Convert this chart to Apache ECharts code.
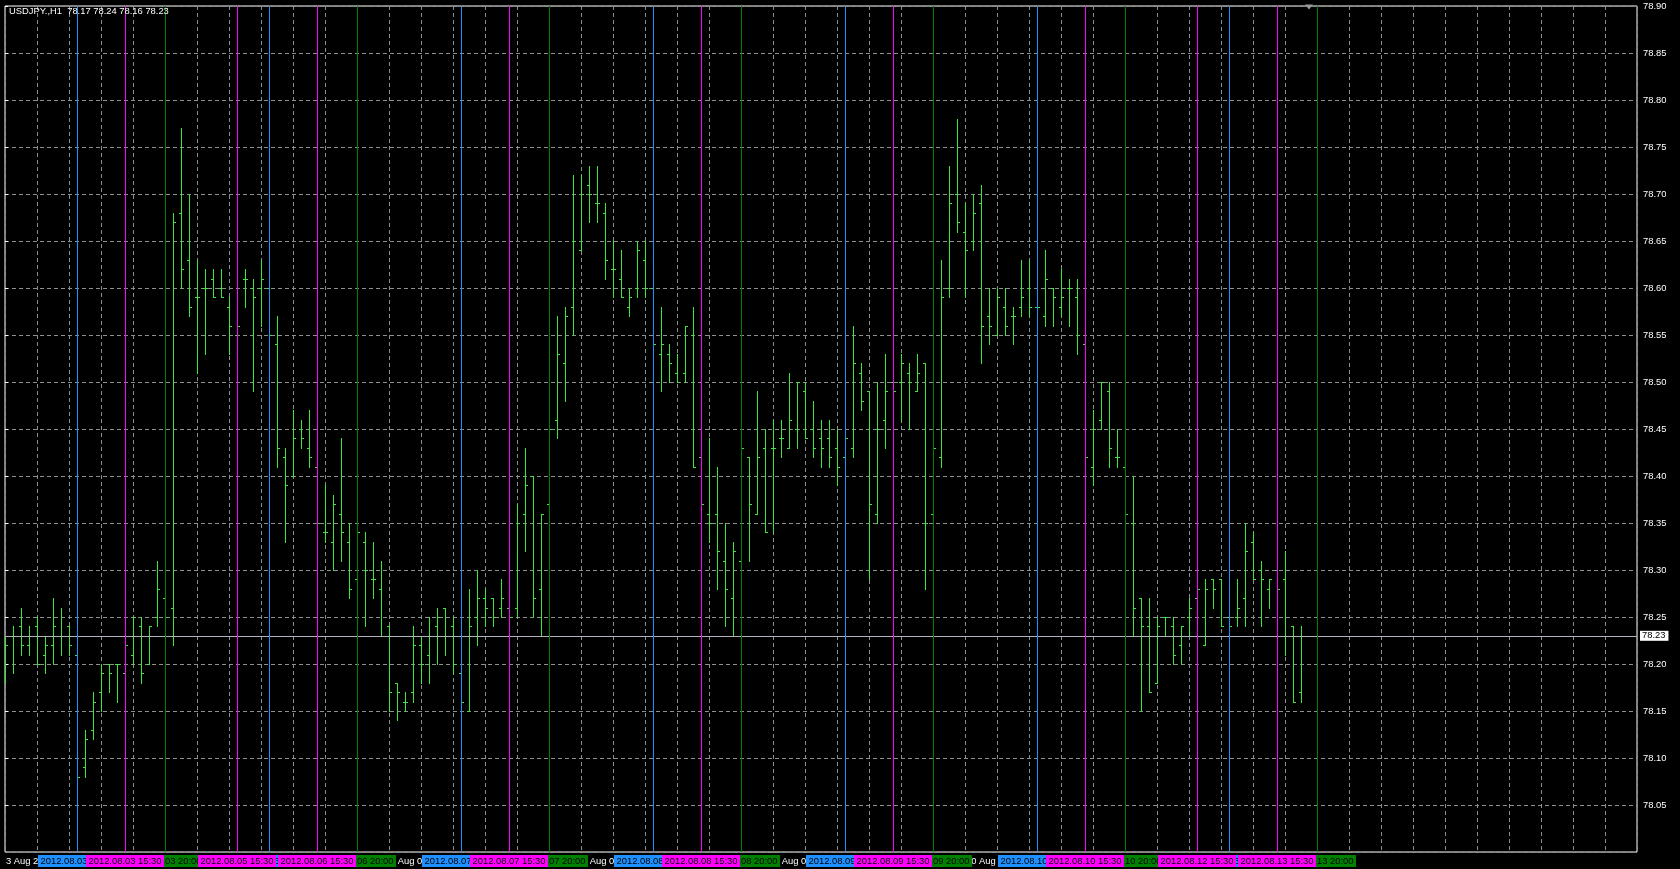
<!DOCTYPE html>
<html><head><meta charset="utf-8">
<script src="https://cdn.jsdelivr.net/npm/echarts@6/dist/echarts.min.js"></script>
<style>html,body{margin:0;padding:0;background:#000;overflow:hidden}#c{width:1680px;height:869px}</style>
</head><body><div id="c"></div>
<script>
// ---------- data ----------
const symbol = 'USDJPY.';
const period = 'H1';
const sessionDays = ['2012.08.03','2012.08.06','2012.08.07','2012.08.08','2012.08.09','2012.08.10','2012.08.13'];
const lastBarHour = 18;

const open = [
 78.21,78.23,78.24,78.22,78.24,78.21,78.22,78.23,78.24,78.21,78.09,78.13,78.17,78.20,78.20,78.19,78.21,78.24,78.20,78.25,78.27,78.26,78.68,78.63,
 78.59,78.60,78.61,78.60,78.58,78.55,78.61,78.60,78.60,78.60,78.54,78.42,78.40,78.45,78.43,78.41,78.34,78.33,78.36,78.33,78.29,78.33,78.29,78.28,
 78.24,78.18,78.16,78.17,78.22,78.21,78.24,78.26,78.24,78.19,78.15,78.25,78.27,78.27,78.26,78.26,78.26,78.36,78.40,78.28,78.37,78.46,78.52,78.58,
 78.64,78.71,78.69,78.68,78.62,78.61,78.58,78.60,78.63,78.60,78.53,78.53,78.51,78.51,78.55,78.42,78.36,78.36,78.31,78.27,78.31,78.42,78.36,78.43,
 78.43,78.44,78.43,78.45,78.49,78.45,78.44,78.44,78.43,78.42,78.43,78.51,78.49,78.36,78.46,78.50,78.50,78.51,78.49,78.52,78.36,78.42,78.60,78.70,
 78.66,78.65,78.69,78.57,78.55,78.58,78.57,78.58,78.60,78.58,78.57,78.60,78.58,78.60,78.59,78.54,78.41,78.46,78.49,78.42,78.41,78.35,78.27,78.24,
 78.18,78.25,78.24,78.22,78.25,78.27,78.22,78.29,78.29,78.25,78.25,78.27,78.33,78.30,78.28,78.30,78.29,78.24,78.17];
const high = [
 78.23,78.24,78.26,78.24,78.25,78.23,78.27,78.26,78.24,78.22,78.13,78.17,78.20,78.20,78.20,78.22,78.25,78.25,78.24,78.31,78.28,78.68,78.77,78.70,
 78.63,78.62,78.62,78.62,78.59,78.56,78.62,78.61,78.63,78.61,78.57,78.43,78.47,78.46,78.47,78.42,78.39,78.38,78.44,78.35,78.34,78.34,78.33,78.31,
 78.24,78.18,78.17,78.24,78.23,78.25,78.26,78.26,78.25,78.19,78.28,78.30,78.28,78.27,78.29,78.27,78.37,78.43,78.40,78.36,78.45,78.57,78.58,78.72,
 78.72,78.73,78.73,78.69,78.65,78.64,78.60,78.65,78.65,78.60,78.58,78.54,78.53,78.56,78.58,78.42,78.44,78.41,78.35,78.33,78.43,78.42,78.49,78.45,
 78.46,78.46,78.51,78.50,78.50,78.48,78.46,78.46,78.45,78.44,78.56,78.52,78.49,78.50,78.53,78.50,78.53,78.52,78.53,78.52,78.43,78.63,78.73,78.78,
 78.69,78.70,78.71,78.60,78.60,78.60,78.58,78.63,78.63,78.58,78.64,78.60,78.62,78.61,78.61,78.54,78.47,78.50,78.50,78.45,78.41,78.40,78.27,78.27,
 78.25,78.25,78.25,78.24,78.27,78.28,78.29,78.29,78.29,78.25,78.29,78.35,78.34,78.31,78.29,78.30,78.32,78.24,78.24];
const low = [
 78.18,78.19,78.21,78.21,78.20,78.19,78.20,78.21,78.21,78.08,78.08,78.12,78.15,78.17,78.16,78.19,78.20,78.18,78.20,78.24,78.25,78.22,78.60,78.57,
 78.51,78.53,78.59,78.59,78.53,78.55,78.58,78.49,78.56,78.55,78.41,78.33,78.40,78.43,78.41,78.35,78.33,78.30,78.31,78.27,78.29,78.24,78.27,78.23,
 78.15,78.14,78.15,78.16,78.18,78.18,78.20,78.21,78.19,78.16,78.15,78.22,78.24,78.24,78.25,78.25,78.25,78.32,78.25,78.23,78.37,78.44,78.48,78.55,
 78.64,78.67,78.67,78.61,78.59,78.59,78.57,78.59,78.59,78.54,78.49,78.50,78.50,78.50,78.41,78.37,78.33,78.28,78.24,78.23,78.31,78.31,78.36,78.34,
 78.34,78.42,78.43,78.43,78.44,78.42,78.41,78.41,78.39,78.42,78.42,78.47,78.29,78.35,78.43,78.49,78.46,78.45,78.49,78.28,78.36,78.41,78.59,78.66,
 78.59,78.64,78.52,78.54,78.55,78.55,78.54,78.57,78.57,78.58,78.56,78.56,78.57,78.56,78.53,78.42,78.39,78.45,78.41,78.41,78.36,78.23,78.15,78.17,
 78.18,78.23,78.20,78.20,78.23,78.27,78.22,78.26,78.24,78.24,78.24,78.24,78.29,78.24,78.26,78.28,78.21,78.16,78.16];
const close = [
 78.22,78.23,78.22,78.23,78.20,78.22,78.24,78.23,78.22,78.08,78.12,78.16,78.19,78.19,78.20,78.22,78.25,78.19,78.24,78.28,78.25,78.67,78.62,78.58,
 78.59,78.60,78.59,78.59,78.56,78.56,78.61,78.59,78.61,78.55,78.43,78.39,78.44,78.44,78.42,78.35,78.34,78.37,78.34,78.28,78.34,78.30,78.29,78.23,
 78.17,78.17,78.16,78.22,78.20,78.23,78.25,78.23,78.20,78.16,78.24,78.27,78.26,78.25,78.27,78.25,78.35,78.39,78.27,78.36,78.45,78.53,78.57,78.65,
 78.70,78.70,78.69,78.63,78.62,78.59,78.59,78.64,78.60,78.54,78.54,78.52,78.50,78.56,78.41,78.37,78.35,78.32,78.28,78.32,78.43,78.37,78.42,78.34,
 78.43,78.44,78.46,78.50,78.44,78.43,78.43,78.42,78.41,78.44,78.52,78.48,78.37,78.45,78.49,78.49,78.52,78.50,78.51,78.35,78.43,78.59,78.69,78.67,
 78.64,78.68,78.56,78.56,78.59,78.56,78.57,78.59,78.58,78.58,78.61,78.59,78.59,78.60,78.55,78.42,78.45,78.50,78.43,78.42,78.36,78.26,78.24,78.17,
 78.24,78.25,78.21,78.24,78.26,78.28,78.28,78.28,78.24,78.24,78.26,78.32,78.29,78.29,78.29,78.28,78.23,78.16,78.23];

// vertical session lines (bar position on the chart, label text)
const blueLineBars = [9,33,57,81,105,129,153];
const blueLineLabels = ['2012.08.03 09:00','2012.08.06 09:00','2012.08.07 09:00','2012.08.08 09:00','2012.08.09 09:00','2012.08.10 09:00','2012.08.13 09:00'];
const greenLineBars = [20,44,68,92,116,140,164];
const greenLineLabels = ['2012.08.03 20:00','2012.08.06 20:00','2012.08.07 20:00','2012.08.08 20:00','2012.08.09 20:00','2012.08.10 20:00','2012.08.13 20:00'];
const magentaLineBars = [15,29,39,63,87,111,135,149,159];
const magentaLineLabels = ['2012.08.03 15:30','2012.08.05 15:30','2012.08.06 15:30','2012.08.07 15:30','2012.08.08 15:30','2012.08.09 15:30','2012.08.10 15:30','2012.08.12 15:30','2012.08.13 15:30'];
const shiftMarkerBar = 163;

const priceMin = 78.00, priceMax = 78.90, priceStep = 0.05;
const slotsOnScreen = 204;

// ---------- build ----------
const barTimes = [];
sessionDays.forEach((d, i) => {
  const n = (i === sessionDays.length - 1) ? lastBarHour + 1 : 24;
  for (let h = 0; h < n; h++) barTimes.push({ d, h });
});
const months = ['Jan','Feb','Mar','Apr','May','Jun','Jul','Aug','Sep','Oct','Nov','Dec'];
function timeLabel(k) {
  const t = barTimes[k]; if (!t) return '';
  const [y, m, dd] = t.d.split('.');
  if (k === 0) return parseInt(dd) + ' ' + months[parseInt(m) - 1] + ' ' + y;
  return parseInt(dd) + ' ' + months[parseInt(m) - 1] + ' ' + String(t.h).padStart(2, '0') + ':00';
}
const ohlc = barTimes.map((t, i) => [i, open[i], high[i], low[i], close[i]]);
const last = ohlc.length - 1;

const FONT = 'Liberation Sans';
const FS = 9.4;
const barColor = '#3ce63c';
const gridColor = '#8e8e8e';

function vlineSeries(bars, labels, color, z) {
  return {
    type: 'line', data: [], z: z, silent: true, animation: false,
    markLine: {
      silent: true, animation: false, symbol: ['none', 'none'], precision: 6,
      lineStyle: { color: color, width: 1, type: 'solid', opacity: 1 },
      emphasis: { disabled: true },
      label: {
        show: true, position: 'start', distance: 3, formatter: p => p.name,
        color: '#000', backgroundColor: color, padding: [1, 2.5, 0, 2.5],
        fontSize: FS, fontFamily: FONT, lineHeight: 11
      },
      data: bars.map((b, i) => ({ xAxis: b, name: labels[i] }))
    }
  };
}

const chart = echarts.init(document.getElementById('c'), null, { renderer: 'canvas', width: 1680, height: 869 });
chart.setOption({
  backgroundColor: '#000',
  animation: false,
  title: {
    text: symbol + ',' + period + '  ' + [open[last], high[last], low[last], close[last]].map(v => v.toFixed(2)).join(' '),
    left: 9, top: 7, padding: 0,
    textStyle: { color: '#fff', fontSize: FS, fontWeight: 'normal', fontFamily: FONT }
  },
  grid: { left: 5, right: 43, top: 6, bottom: 17, show: true, borderColor: '#fff', borderWidth: 1, backgroundColor: '#000', containLabel: false, outerBoundsMode: 'none' },
  xAxis: [
    { type: 'value', min: 0, max: slotsOnScreen, interval: 4,
      axisLine: { show: false }, axisTick: { show: false }, axisLabel: { show: false },
      splitLine: { show: true, lineStyle: { color: gridColor, type: [4, 3], width: 1 } } },
    { type: 'value', min: 0, max: slotsOnScreen, interval: 8, position: 'bottom',
      axisLine: { show: false }, axisTick: { show: false }, splitLine: { show: false },
      axisLabel: { show: true, color: '#fff', fontSize: FS, fontFamily: FONT, lineHeight: 11, align: 'left', margin: 4,
        padding: [0, 0, 0, 1], showMaxLabel: false, hideOverlap: false,
        formatter: v => (v <= last ? timeLabel(Math.round(v)) : '') } }
  ],
  yAxis: {
    type: 'value', position: 'right', min: priceMin, max: priceMax, interval: priceStep,
    axisLine: { show: false },
    axisTick: { show: true, length: 3, lineStyle: { color: '#fff' } },
    axisLabel: { color: '#fff', fontSize: FS, fontFamily: FONT, margin: 6, showMinLabel: false, formatter: v => v.toFixed(2) },
    splitLine: { show: true, lineStyle: { color: gridColor, type: [4, 3], width: 1 } }
  },
  series: [
    { // current price line
      type: 'line', data: [], z: 1, silent: true,
      markLine: {
        silent: true, animation: false, symbol: ['none', 'none'], precision: 2,
        lineStyle: { color: '#aeb4bc', width: 1, type: 'solid' }, emphasis: { disabled: true },
        label: { show: true, position: 'end', distance: 3, formatter: () => close[last].toFixed(2),
          color: '#000', backgroundColor: '#fff', padding: [1, 3, 0, 2], fontSize: FS, fontFamily: FONT, lineHeight: 9 },
        data: [{ yAxis: close[last] }]
      },
      markPoint: {
        silent: true, animation: false, symbol: 'triangle', symbolSize: [8, 5], symbolRotate: 180,
        itemStyle: { color: '#9a9a9a' }, label: { show: false },
        data: [{ coord: [shiftMarkerBar, priceMax], symbolOffset: [0, 1] }]
      }
    },
    {
      type: 'custom', z: 2, clip: true, silent: true, data: ohlc,
      encode: { x: 0, y: [1, 2, 3, 4] },
      renderItem: (params, api) => {
        const k = api.value(0);
        const pO = api.coord([k, api.value(1)]);
        const pH = api.coord([k, api.value(2)]);
        const pL = api.coord([k, api.value(3)]);
        const pC = api.coord([k, api.value(4)]);
        const x = Math.round(pO[0]) + 0.5;
        const yH = Math.round(pH[1]), yL = Math.round(pL[1]);
        const yO = Math.round(pO[1]) + 0.5, yC = Math.round(pC[1]) + 0.5;
        const st = { stroke: barColor, lineWidth: 1 };
        return { type: 'group', children: [
          { type: 'line', shape: { x1: x, y1: yH, x2: x, y2: yL + 1 }, style: st },
          { type: 'line', shape: { x1: x - 2.5, y1: yO, x2: x, y2: yO }, style: st },
          { type: 'line', shape: { x1: x, y1: yC, x2: x + 2.5, y2: yC }, style: st }
        ] };
      }
    },
    vlineSeries(blueLineBars, blueLineLabels, '#1e90ff', 3),
    vlineSeries(greenLineBars, greenLineLabels, '#008000', 4),
    vlineSeries(magentaLineBars, magentaLineLabels, '#ff00ff', 5)
  ]
});
</script>
</body></html>
